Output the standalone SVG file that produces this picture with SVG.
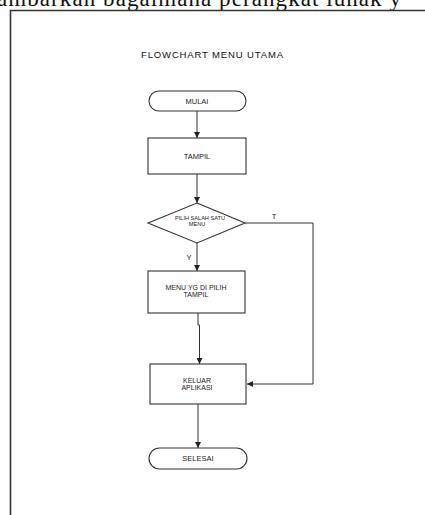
<svg xmlns="http://www.w3.org/2000/svg" width="425" height="515" viewBox="0 0 425 515">
<defs>
<style>
.shape{fill:#fff;stroke:#333;stroke-width:1.1}
.edge{fill:none;stroke:#333;stroke-width:1}
.lbl{font-family:"Liberation Sans",Arial,sans-serif;font-size:7.5px;fill:#222;text-anchor:middle}
.two{font-size:7px}
.small{font-size:5.6px}
.title{font-family:"Liberation Sans",Arial,sans-serif;font-size:9.5px;fill:#111}
.frame{fill:none;stroke:#333;stroke-width:1.6}
</style>
<marker id="arr" viewBox="0 0 10 10" refX="10" refY="5" markerWidth="6" markerHeight="6" orient="auto" markerUnits="userSpaceOnUse">
<path d="M0,0 L10,5 L0,10 z" fill="#222"/>
</marker>
</defs>
<rect width="425" height="515" fill="#fff"/>
<text x="-3" y="6" font-family="'Liberation Serif','Times New Roman',serif" font-size="23" fill="#111" textLength="404">ambarkan bagaimana perangkat lunak  y</text>
<path class="frame" d="M10.5,515 V10.5 H425"/>
<text class="title" x="141" y="58" textLength="142">FLOWCHART MENU UTAMA</text>
<g id="connectors">
<line class="edge" x1="197" y1="111" x2="197" y2="138" marker-end="url(#arr)"/>
<line class="edge" x1="197" y1="174" x2="197" y2="203" marker-end="url(#arr)"/>
<line class="edge" x1="197" y1="243" x2="197" y2="271" marker-end="url(#arr)"/>
<polyline class="edge" points="245,223 313,223 313,384 247,384" marker-end="url(#arr)"/>
<polyline class="edge" points="198,313 198,325 199.5,325 199.5,364" marker-end="url(#arr)"/>
<line class="edge" x1="198" y1="404" x2="198" y2="448" marker-end="url(#arr)"/>
<text class="lbl" x="274" y="219">T</text>
<text class="lbl" x="189" y="260">Y</text>
</g>
<g id="mulai">
<rect class="shape" x="149" y="91" width="97" height="20" rx="10"/>
<text class="lbl" x="197" y="103.5">MULAI</text>
</g>
<g id="tampil">
<rect class="shape" x="148" y="138" width="98" height="36"/>
<text class="lbl" x="197" y="158.5">TAMPIL</text>
</g>
<g id="pilih">
<polygon class="shape" points="197,203 245,223 197,243 148,223"/>
<text class="lbl small" x="200" y="219.5">PILIH SALAH SATU</text>
<text class="lbl small" x="197" y="226">MENU</text>
</g>
<g id="menu-tampil">
<rect class="shape" x="148" y="271" width="97" height="42"/>
<text class="lbl two" x="196" y="289.5">MENU YG DI PILIH</text>
<text class="lbl two" x="196" y="297">TAMPIL</text>
</g>
<g id="keluar">
<rect class="shape" x="150" y="364" width="96" height="40"/>
<text class="lbl two" x="197" y="382.5">KELUAR</text>
<text class="lbl two" x="197" y="390">APLIKASI</text>
</g>
<g id="selesai">
<rect class="shape" x="149" y="448" width="98" height="21" rx="10.5"/>
<text class="lbl" x="198" y="461">SELESAI</text>
</g>
</svg>
